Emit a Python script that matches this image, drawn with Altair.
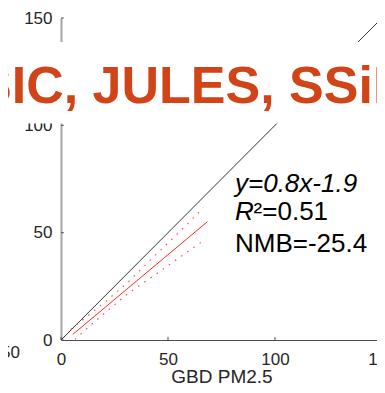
import altair as alt
import pandas as pd

# ---- values ----
identity_x = [0, 150]
identity_y = [0, 150]
fit_x = [5.5, 68.4]
fit_y = [2.6, 55.1]
upper_x = [4.5, 13.6, 23.2, 31.5, 45.0, 58.7, 66.5]
upper_y = [4.9, 12.1, 19.9, 27.1, 40.4, 53.6, 61.6]
lower_x = [6.5, 13.6, 23.2, 31.5, 45.0, 58.7, 67.0]
lower_y = [0.3, 6.7, 14.9, 21.8, 31.1, 40.8, 46.6]
tick_values = [0, 50, 100, 150]
panel_title = "CLASSIC, JULES, SSiB4"
x_title = "GBD PM2.5"
eq_text = "y=0.8x-1.9"
r2_letter = "R"
r2_rest = "\u00b2=0.51"
nmb_text = "NMB=-25.4"
neighbor_label = "150"

FONT = "Liberation Sans"
TXT = "#262626"

xs = alt.Scale(domain=[0, 150], range=[0, 321], nice=False, zero=False)
ys = alt.Scale(domain=[0, 150], nice=False, zero=False)

xaxis = alt.Axis(values=tick_values, ticks=False, grid=False, format="d",
                 labelFont=FONT, labelFontSize=17, labelColor=TXT,
                 labelPadding=11, labelFlush=False,
                 domainColor="#4d4d4d", domainWidth=1,
                 title=x_title, titleFont=FONT, titleFontSize=19,
                 titleFontWeight="normal", titleColor=TXT,
                 titleX=160.5, titleY=42, titleBaseline="alphabetic")
yaxis = alt.Axis(values=tick_values, ticks=False, grid=False, format="d",
                 labelFont=FONT, labelFontSize=17, labelColor=TXT,
                 labelPadding=9, labelFlush=False,
                 domainColor="#a6a6a6", domainWidth=2, title="")


def X(f="x"):
    return alt.X(f"{f}:Q", scale=xs, axis=xaxis)


def Y(f="y"):
    return alt.Y(f"{f}:Q", scale=ys, axis=yaxis)


ident = alt.Chart(pd.DataFrame({"x": identity_x, "y": identity_y})).mark_line(
    color="#333333", strokeWidth=1).encode(x=X(), y=Y())
fit = alt.Chart(pd.DataFrame({"x": fit_x, "y": fit_y})).mark_line(
    color="#ff2a2a", strokeWidth=1).encode(x=X(), y=Y())
upper = alt.Chart(pd.DataFrame({"x": upper_x, "y": upper_y})).mark_line(
    color="#ff4d4d", strokeWidth=1.2, strokeDash=[1.5, 6]).encode(x=X(), y=Y())
lower = alt.Chart(pd.DataFrame({"x": lower_x, "y": lower_y})).mark_line(
    color="#ff4d4d", strokeWidth=1.2, strokeDash=[1.5, 6]).encode(x=X(), y=Y())

xticks = alt.Chart(pd.DataFrame({"x": tick_values, "y": [0] * 4, "y2": [1.4] * 4})).mark_rule(
    color="#4d4d4d", strokeWidth=1).encode(x=X(), y=Y(), y2="y2:Q")
yticks = alt.Chart(pd.DataFrame({"y": tick_values, "x": [0] * 4, "x2": [1.3] * 4})).mark_rule(
    color="#4d4d4d", strokeWidth=1).encode(y=Y(), x=X(), x2="x2:Q")

mask = alt.Chart(pd.DataFrame({"x": [-40], "x2": [170], "y": [100.9], "y2": [138.8]})).mark_rect(
    color="white").encode(x=X(), x2="x2:Q", y=Y(), y2="y2:Q")

title_txt = alt.Chart(pd.DataFrame({"x": [-105.4], "y": [110.6], "t": [panel_title]})).mark_text(
    align="left", baseline="alphabetic", font=FONT, fontSize=52, fontWeight="bold",
    color="#D04418").encode(x=X(), y=Y(), text="t:N")

eq = alt.Chart(pd.DataFrame({"x": [81.3], "y": [69.1], "t": [eq_text]})).mark_text(
    align="left", baseline="alphabetic", font=FONT, fontSize=26, fontStyle="italic",
    color="black").encode(x=X(), y=Y(), text="t:N")
r2a = alt.Chart(pd.DataFrame({"x": [81.3], "y": [55.9], "t": [r2_letter]})).mark_text(
    align="left", baseline="alphabetic", font=FONT, fontSize=26, fontStyle="italic",
    color="black").encode(x=X(), y=Y(), text="t:N")
r2b = alt.Chart(pd.DataFrame({"x": [90.0], "y": [55.9], "t": [r2_rest]})).mark_text(
    align="left", baseline="alphabetic", font=FONT, fontSize=26,
    color="black").encode(x=X(), y=Y(), text="t:N")
nmb = alt.Chart(pd.DataFrame({"x": [81.3], "y": [40.9], "t": [nmb_text]})).mark_text(
    align="left", baseline="alphabetic", font=FONT, fontSize=26,
    color="black").encode(x=X(), y=Y(), text="t:N")
neigh = alt.Chart(pd.DataFrame({"x": [-19.2], "y": [-6.06], "t": [neighbor_label]})).mark_text(
    align="right", baseline="middle", font=FONT, fontSize=17,
    color=TXT).encode(x=X(), y=Y(), text="t:N")

chart = alt.layer(ident, fit, upper, lower, xticks, yticks, mask, title_txt,
                  eq, r2a, r2b, nmb, neigh).properties(
    width=316, height=322,
    autosize=alt.AutoSizeParams(type="none"),
    padding={"left": 53, "top": 10, "right": 0, "bottom": 45},
    background="white",
).configure_view(stroke=None)

chart.save("out.html", embed_options={"renderer": "svg", "actions": False})
